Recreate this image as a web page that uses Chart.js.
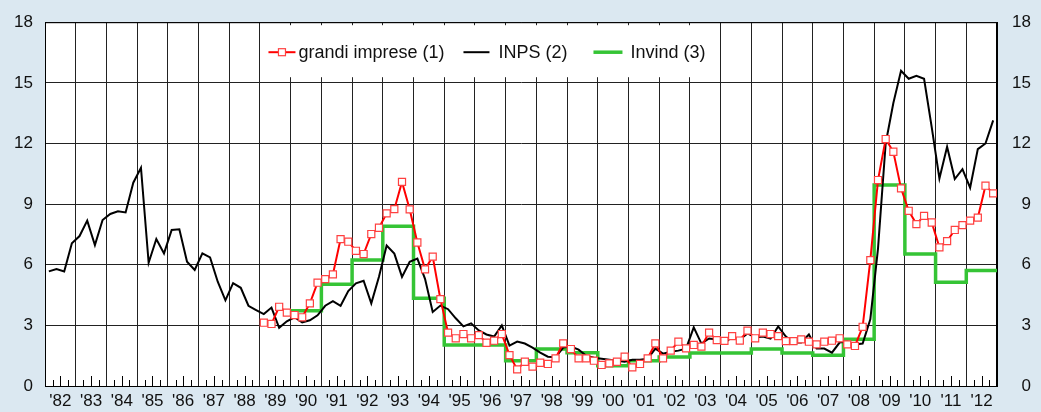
<!DOCTYPE html>
<html lang="it">
<head>
<meta charset="UTF-8">
<title>Cassa integrazione guadagni</title>
<script src="https://cdn.jsdelivr.net/npm/chart.js@4"></script>
<style>
  body { margin: 0; background: #dbe8f1; }
  #wrap { width: 1041px; height: 412px; position: relative; }
</style>
</head>
<body>
<div id="wrap"><canvas id="chart"></canvas></div>
<script>
const firstYear = 1982;
const lastYear = 2012;
const yearLabels = ["'82", "'83", "'84", "'85", "'86", "'87", "'88", "'89", "'90", "'91",
  "'92", "'93", "'94", "'95", "'96", "'97", "'98", "'99", "'00", "'01", "'02", "'03",
  "'04", "'05", "'06", "'07", "'08", "'09", "'10", "'11", "'12"];

// INPS, quarterly from 1982 Q1
const inpsStart = 1982;
const inps = [
  5.67, 5.79, 5.67, 7.06,   // 1982
  7.42, 8.18, 6.97, 8.21,   // 1983
  8.51, 8.64, 8.59, 10.06,  // 1984
  10.8, 6.1, 7.27, 6.56,    // 1985
  7.72, 7.75, 6.15, 5.74,   // 1986
  6.56, 6.36, 5.16, 4.24,   // 1987
  5.09, 4.86, 3.97, 3.76,   // 1988
  3.56, 3.88, 2.88, 3.2,    // 1989
  3.4, 3.15, 3.25, 3.5,     // 1990
  3.97, 4.2, 3.97, 4.7,     // 1991
  5.08, 5.21, 4.09, 5.4,    // 1992
  6.95, 6.55, 5.4, 6.15,    // 1993
  6.3, 5.3, 3.66, 3.98,     // 1994
  3.8, 3.35, 2.95, 3.1,     // 1995
  2.75, 2.55, 2.45, 3.0,    // 1996
  2.0, 2.2, 2.1, 1.9,       // 1997
  1.65, 1.45, 1.42, 1.9,    // 1998
  1.95, 1.8, 1.5, 1.4,      // 1999
  1.35, 1.3, 1.25, 1.2,     // 2000
  1.3, 1.3, 1.35, 1.85,     // 2001
  1.6, 1.7, 1.75, 1.85,     // 2002
  2.9, 2.1, 2.35, 2.3,      // 2003
  2.1, 2.45, 2.3, 2.6,      // 2004
  2.4, 2.45, 2.35, 2.95,    // 2005
  2.45, 2.15, 2.15, 2.55,   // 2006
  1.85, 1.85, 1.65, 2.15,   // 2007
  2.2, 2.05, 2.1, 3.3,      // 2008
  6.8, 12.0, 14.0, 15.6,    // 2009
  15.2, 15.35, 15.2, 12.8,  // 2010
  10.27, 11.84, 10.24, 10.73, // 2011
  9.81, 11.72, 12.0, 13.14  // 2012
];

// grandi imprese, quarterly from 1989 Q1
const grandiStart = 1989;
const grandiImprese = [
  3.13, 3.07, 3.92, 3.63,   // 1989
  3.51, 3.4, 4.09, 5.11,    // 1990
  5.29, 5.52, 7.27, 7.14,   // 1991
  6.69, 6.53, 7.52, 7.83,   // 1992
  8.54, 8.75, 10.1, 8.74,   // 1993
  7.1, 5.77, 6.4, 4.3,      // 1994
  2.64, 2.36, 2.57, 2.36,   // 1995
  2.52, 2.14, 2.24, 2.57,   // 1996
  1.53, 0.82, 1.2, 0.96,    // 1997
  1.15, 1.09, 1.37, 2.11,   // 1998
  1.83, 1.37, 1.37, 1.25,   // 1999
  1.04, 1.12, 1.2, 1.45,    // 2000
  0.92, 1.09, 1.37, 2.11,   // 2001
  1.37, 1.75, 2.19, 1.86,   // 2002
  2.03, 1.95, 2.64, 2.27,   // 2003
  2.23, 2.47, 2.25, 2.74,   // 2004
  2.36, 2.64, 2.57, 2.47,   // 2005
  2.22, 2.22, 2.31, 2.19,   // 2006
  2.06, 2.19, 2.24, 2.36,   // 2007
  2.06, 1.98, 2.93, 6.23,   // 2008
  10.19, 12.22, 11.59, 9.78, // 2009
  8.67, 8.01, 8.42, 8.09,   // 2010
  6.86, 7.17, 7.72, 7.96,   // 2011
  8.18, 8.33, 9.91, 9.53    // 2012
];

// Invind, annual
const invindYears = [1990, 1991, 1992, 1993, 1994, 1995, 1996, 1997, 1998, 1999, 2000,
  2001, 2002, 2003, 2004, 2005, 2006, 2007, 2008, 2009, 2010, 2011, 2012];
const invind = [3.72, 5.03, 6.23, 7.91, 4.34, 2.03, 2.03, 1.25, 1.83, 1.65, 1.0,
  1.25, 1.43, 1.63, 1.63, 1.83, 1.63, 1.52, 2.31, 9.94, 6.53, 5.13, 5.72];

function quarterly(start, values) {
  return values.map((v, i) => ({ x: start + Math.floor(i / 4) + ((i % 4) + 0.5) / 4, y: v }));
}

// each annual value holds for the whole year
const invindPoints = invindYears.map((yr, i) => ({ x: yr, y: invind[i] }));
invindPoints.push({ x: lastYear + 1, y: invind[invind.length - 1] });

const plotBg = {
  id: 'plotBg',
  beforeDraw(chart) {
    const { ctx, chartArea: a } = chart;
    ctx.save();
    ctx.fillStyle = '#fff';
    ctx.fillRect(a.left, a.top, a.width, a.height);
    ctx.restore();
  }
};

// quarter ticks along the bottom, frame, legend box
const extras = {
  id: 'extras',
  beforeDatasetsDraw(chart) {
    const { ctx, chartArea: a, scales: { x } } = chart;
    ctx.save();
    ctx.strokeStyle = '#000';
    ctx.lineWidth = 1;
    ctx.beginPath();
    for (let yr = firstYear; yr <= lastYear; yr++) {
      [0.25, 0.5, 0.75].forEach(f => {
        const px = Math.round(x.getPixelForValue(yr + f)) + 0.5;
        const len = f === 0.5 ? 10 : 6;
        ctx.moveTo(px, a.bottom);
        ctx.lineTo(px, a.bottom - len);
      });
    }
    ctx.stroke();
    ctx.strokeRect(a.left + 0.5, a.top + 0.5, a.width - 1, a.height);

    // legend
    const bx0 = x.getPixelForValue(1989) + 1.5;
    const bx1 = x.getPixelForValue(2004) - 1.5;
    const by0 = a.top + 3, by1 = a.top + 55;
    ctx.fillStyle = '#fff';
    ctx.fillRect(bx0, by0, bx1 - bx0, by1 - by0);
    const cy = a.top + 30;
    const items = [
      { ds: chart.data.datasets[0], x0: 7, x1: 34, tx: 37 },
      { ds: chart.data.datasets[1], x0: 202, x1: 228, tx: 237 },
      { ds: chart.data.datasets[2], x0: 332, x1: 361, tx: 369 }
    ];
    ctx.font = '18px "Liberation Sans", Arial, sans-serif';
    ctx.textBaseline = 'middle';
    items.forEach(it => {
      ctx.strokeStyle = it.ds.borderColor;
      ctx.lineWidth = it.ds.borderWidth;
      ctx.beginPath();
      ctx.moveTo(bx0 + it.x0, cy);
      ctx.lineTo(bx0 + it.x1, cy);
      ctx.stroke();
      if (it.ds.pointRadius > 0) {
        const mx = bx0 + (it.x0 + it.x1) / 2;
        ctx.fillStyle = '#fff';
        ctx.fillRect(mx - 3.5, cy - 3.5, 7, 7);
        ctx.strokeStyle = it.ds.pointBorderColor;
        ctx.lineWidth = it.ds.pointBorderWidth;
        ctx.strokeRect(mx - 3.5, cy - 3.5, 7, 7);
      }
      ctx.fillStyle = '#111';
      ctx.fillText(it.ds.label, bx0 + it.tx, cy + 1);
    });
    ctx.restore();
  }
};

Chart.defaults.font.family = '"Liberation Sans", Arial, sans-serif';
Chart.defaults.font.size = 17;
Chart.defaults.color = '#111';

new Chart(document.getElementById('chart'), {
  type: 'line',
  data: {
    datasets: [
      {
        label: 'grandi imprese (1)',
        data: quarterly(grandiStart, grandiImprese),
        borderColor: '#ff0000',
        borderWidth: 2,
        pointStyle: 'rect',
        pointRadius: 5,
        pointBackgroundColor: '#fff',
        pointBorderColor: '#ff4040',
        pointBorderWidth: 1.2,
        tension: 0
      },
      {
        label: 'INPS (2)',
        data: quarterly(inpsStart, inps),
        borderColor: '#000',
        borderWidth: 2,
        pointRadius: 0,
        tension: 0
      },
      {
        label: 'Invind (3)',
        data: invindPoints,
        borderColor: '#35c435',
        borderWidth: 3.5,
        pointRadius: 0,
        stepped: 'before'
      }
    ]
  },
  options: {
    responsive: true,
    maintainAspectRatio: false,
    animation: false,
    layout: { padding: { top: 22, right: 10, left: 0, bottom: 0 } },
    plugins: { legend: { display: false }, tooltip: { enabled: false } },
    scales: {
      x: {
        type: 'linear',
        min: firstYear,
        max: lastYear + 1,
        grid: { color: '#222', lineWidth: 1, drawTicks: false },
        border: { color: '#000' },
        ticks: {
          stepSize: 1,
          autoSkip: false,
          maxRotation: 0,
          padding: 5,
          labelOffset: 15.35,
          callback: v => yearLabels[Math.round(v) - firstYear] || ''
        },
        afterFit: s => { s.height = 26; }
      },
      y: {
        position: 'left',
        min: 0,
        max: 18,
        grid: { color: '#222', lineWidth: 1, drawTicks: false },
        border: { color: '#000' },
        ticks: { stepSize: 3, padding: 12 },
        afterFit: s => { s.width = 45; }
      },
      y2: {
        position: 'right',
        min: 0,
        max: 18,
        grid: { display: false, drawTicks: false },
        border: { color: '#000' },
        ticks: { stepSize: 3, crossAlign: 'far' },
        afterFit: s => { s.width = 34; }
      }
    }
  },
  plugins: [plotBg, extras]
});
</script>
</body>
</html>
